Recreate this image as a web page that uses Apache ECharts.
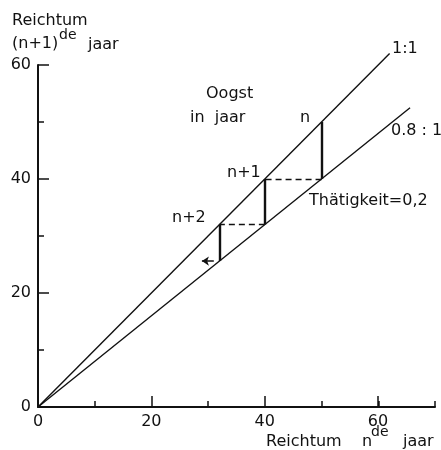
<!DOCTYPE html>
<html>
	<head>
		<meta charset="utf-8">
		<title></title>
		<script src="https://cdn.jsdelivr.net/npm/echarts@6/dist/echarts.min.js"></script>
	</head>
	<body style="margin: 0; background: #fff;">
		<div id="main" style="width: 441px; height: 450px;"></div>
		<script type="text/javascript">
			// 数据
			var oneToOne = [[0, 0], [62, 62]];
			var ratioLine = [[0, 0], [65.6, 52.5]];
			var harvestX = [50, 40, 32];
			var wealthTop = [50, 40, 32];
			var wealthBottom = [40, 32, 25.6];
			var arrowFrom = [31, 25.6];
			var arrowTo = [28.9, 25.6];

			var font = '"DejaVu Sans", sans-serif';
			var ink = '#111';

			// 竖线 和 虚线
			var steps = [];
			var dashes = [];
			for (var i = 0; i < harvestX.length; i++) {
				steps.push({ coords: [[harvestX[i], wealthTop[i]], [harvestX[i], wealthBottom[i]]] });
				if (i < harvestX.length - 1) {
					dashes.push({ coords: [[harvestX[i], wealthBottom[i]], [harvestX[i + 1], wealthTop[i + 1]]] });
				}
			}

			function txt(text, x, y, size, align) {
				return {
					type: 'text', x: x, y: y, z: 10,
					style: {
						text: text, fill: ink,
						font: (size || 16) + 'px ' + font,
						textAlign: align || 'left', textVerticalAlign: 'middle'
					}
				};
			}

			var myCharts = echarts.init(document.getElementById('main'));
			var option = {
				animation: false,
				grid: [
					{ left: 38, top: 65, bottom: 43, width: 397 },
					{ left: 38, top: 65, bottom: 43, width: 340 }
				],
				xAxis: [
					{
						gridIndex: 0, type: 'value', min: 0, max: 70, interval: 10,
						axisLine: { lineStyle: { color: ink, width: 2 } },
						axisTick: { inside: true, length: 6, lineStyle: { color: ink, width: 1.5 } },
						axisLabel: { show: false },
						splitLine: { show: false }
					},
					{
						gridIndex: 1, type: 'value', min: 0, max: 60, interval: 20,
						axisLine: { show: false },
						axisTick: { inside: true, length: 11, lineStyle: { color: ink, width: 1.5 } },
						axisLabel: { color: ink, fontFamily: font, fontSize: 16, margin: 7 },
						splitLine: { show: false }
					}
				],
				yAxis: [
					{
						gridIndex: 0, type: 'value', min: 0, max: 60, interval: 10,
						axisLine: { show: true, lineStyle: { color: ink, width: 2 } },
						axisTick: { show: true, inside: true, length: 6, lineStyle: { color: ink, width: 1.5 } },
						axisLabel: { show: false },
						splitLine: { show: false }
					},
					{
						gridIndex: 1, type: 'value', min: 0, max: 60, interval: 20,
						axisLine: { show: false },
						axisTick: { show: true, inside: true, length: 11, lineStyle: { color: ink, width: 1.5 } },
						axisLabel: { color: ink, fontFamily: font, fontSize: 16, margin: 7 },
						splitLine: { show: false }
					}
				],
				series: [
					{
						type: 'line', data: oneToOne, symbol: 'none', clip: false,
						lineStyle: { color: ink, width: 1.4 }
					},
					{
						type: 'line', data: ratioLine, symbol: 'none', clip: false,
						lineStyle: { color: ink, width: 1.4 }
					},
					{
						type: 'lines', coordinateSystem: 'cartesian2d', data: steps,
						lineStyle: { color: ink, width: 2.4, opacity: 1 }
					},
					{
						type: 'lines', coordinateSystem: 'cartesian2d', data: dashes,
						lineStyle: { color: ink, width: 1.4, type: [6, 4], opacity: 1 }
					},
					{
						type: 'lines', coordinateSystem: 'cartesian2d',
						data: [{ coords: [arrowFrom, arrowTo] }],
						symbol: ['none', 'arrow'], symbolSize: 7,
						lineStyle: { color: ink, width: 1.6, opacity: 1 }
					}
				],
				graphic: [
					txt('Reichtum', 12, 21),
					txt('(n+1)', 12, 44),
					txt('de', 59, 35, 14),
					txt('jaar', 88, 45),
					txt('Reichtum', 266, 442),
					txt('n', 362, 442),
					txt('de', 371, 432, 14),
					txt('jaar', 403, 442),
					txt('Oogst', 206, 94),
					txt('in  jaar', 190, 118),
					txt('n', 300, 118),
					txt('n+1', 227, 173),
					txt('n+2', 172, 218),
					txt('1:1', 392, 49),
					txt('0.8 : 1', 391, 131),
					txt('Thätigkeit=0,2', 309, 201)
				]
			};
			myCharts.setOption(option);
		</script>
	</body>
</html>
